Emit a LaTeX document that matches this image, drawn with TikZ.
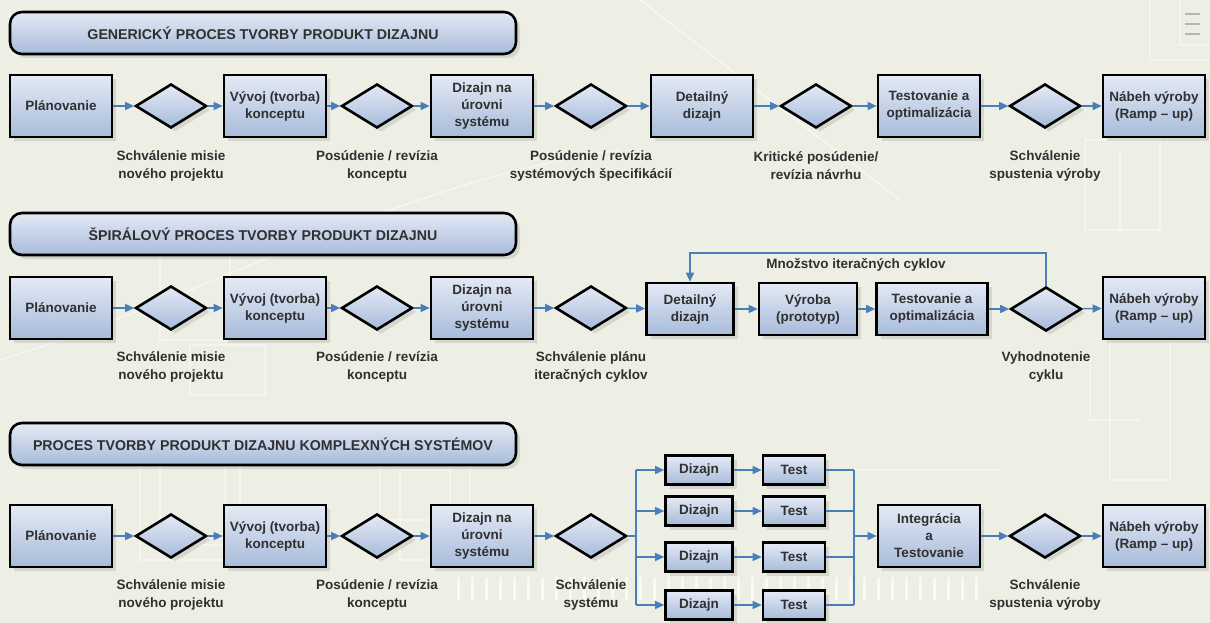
\documentclass[tikz,border=0pt]{standalone}
\usepackage{fontspec}
\setmainfont{Liberation Sans}
\usetikzlibrary{shapes.geometric,arrows.meta,shadows,calc}
\definecolor{bg}{HTML}{EDEFE4}
\definecolor{flow}{HTML}{4A7EBB}
\definecolor{ink}{HTML}{303030}
\definecolor{fillhi}{HTML}{E4EAF5}
\definecolor{filllo}{HTML}{A7BBDA}
\tikzset{
  base/.style={draw=black, line width=2.6pt, top color=fillhi, bottom color=filllo,
    drop shadow={opacity=0.22, shadow xshift=4pt, shadow yshift=-4pt},
    font=\bfseries\fontsize{13.5}{17}\selectfont, text=ink, align=center, inner sep=0pt},
  stage/.style={base, rectangle, minimum width=102pt, minimum height=62pt},
  small/.style={base, rectangle, minimum width=67pt, minimum height=29pt},
  gate/.style={base, diamond, minimum width=71pt, minimum height=44pt, aspect=1.6},
  banner/.style={base, rectangle, rounded corners=12pt, minimum width=506pt, minimum height=42pt,
    font=\bfseries\fontsize{14.2}{17}\selectfont},
  note/.style={font=\bfseries\fontsize{13.5}{18}\selectfont, text=ink, align=center},
  flowarrow/.style={draw=flow, line width=1.5pt, -{Triangle[length=9pt,width=8pt]}},
  flowline/.style={draw=flow, line width=1.5pt},
  deco/.style={draw=white, line width=1.5pt, opacity=0.4},
}
\begin{document}
\begin{tikzpicture}[x=1pt,y=-1pt]
% canvas
\fill[bg] (0,0) rectangle (1210,623);
\useasboundingbox (0,0) rectangle (1210,623);

% faint circuit-board backdrop
\begin{scope}[deco]
  \foreach \x in {458,472,...,980} \draw[line width=3pt,opacity=0.7] (\x,577) -- (\x,600);
  \draw (1150,0) -- (1150,60) -- (1210,60);
  \draw (1180,0) -- (1180,45) -- (1210,45);
  \foreach \y in {14,24,34} \draw[draw=gray,opacity=0.5] (1185,\y) -- (1200,\y);
  \draw (1085,140) rectangle (1160,230);
  \draw (1120,150) -- (1120,230);
  \draw (1110,300) rectangle (1170,480);
  \draw (1090,360) -- (1090,420) -- (1140,420);
  \draw (140,440) rectangle (240,560);
  \draw (160,455) rectangle (225,545);
  \draw (380,430) rectangle (470,520);
  \draw (400,470) rectangle (450,560);
  \draw (160,220) rectangle (230,340);
  \draw (190,345) rectangle (265,395);
  \draw (850,470) -- (1000,470);
  \draw (930,535) -- (980,535);
  \draw[opacity=0.5] (0,360) .. controls (200,300) and (400,180) .. (620,150);
  \draw[opacity=0.5] (640,0) -- (900,200);
\end{scope}

% ---------- row 1: generic process ----------
\node[banner] (t1) at (263,33) {GENERICKÝ PROCES TVORBY PRODUKT DIZAJNU};
\node[stage] (a1) at (61,106) {Plánovanie};
\node[gate]  (a2) at (171,106) {};
\node[stage] (a3) at (275,106) {Vývoj (tvorba)\\konceptu};
\node[gate]  (a4) at (377,106) {};
\node[stage] (a5) at (482,106) {Dizajn na\\úrovni\\systému};
\node[gate]  (a6) at (591,106) {};
\node[stage] (a7) at (702,106) {Detailný\\dizajn};
\node[gate]  (a8) at (816,106) {};
\node[stage] (a9) at (929,106) {Testovanie a\\optimalizácia};
\node[gate]  (a10) at (1045,106) {};
\node[stage] (a11) at (1154,106) {Nábeh výroby\\(Ramp – up)};
\foreach \p/\q in {a1/a2,a2/a3,a3/a4,a4/a5,a5/a6,a6/a7,a7/a8,a8/a9,a9/a10,a10/a11}
  \draw[flowarrow] (\p) -- (\q);
\node[note] (la1) at (171,166) {Schválenie misie\\nového projektu};
\node[note] (la2) at (377,166) {Posúdenie / revízia\\konceptu};
\node[note] (la3) at (591,166) {Posúdenie / revízia\\systémových špecifikácií};
\node[note] (la4) at (816,166) {Kritické posúdenie/\\revízia návrhu};
\node[note] (la5) at (1045,166) {Schválenie\\spustenia výroby};

% ---------- row 2: spiral process ----------
\node[banner] (t2) at (263,234) {ŠPIRÁLOVÝ PROCES TVORBY PRODUKT DIZAJNU};
\node[stage] (b1) at (61,308) {Plánovanie};
\node[gate]  (b2) at (171,308) {};
\node[stage] (b3) at (275,308) {Vývoj (tvorba)\\konceptu};
\node[gate]  (b4) at (377,308) {};
\node[stage] (b5) at (482,308) {Dizajn na\\úrovni\\systému};
\node[gate]  (b6) at (591,308) {};
\node[stage, minimum width=87pt, minimum height=52pt] (b7) at (690,309) {Detailný\\dizajn};
\node[stage, minimum width=98pt, minimum height=52pt] (b8) at (808,309) {Výroba\\(prototyp)};
\node[stage, minimum width=111pt, minimum height=52pt] (b9) at (932,309) {Testovanie a\\optimalizácia};
\node[gate]  (b10) at (1046,309) {};
\node[stage] (b11) at (1154,308) {Nábeh výroby\\(Ramp – up)};
\foreach \p/\q in {b1/b2,b2/b3,b3/b4,b4/b5,b5/b6,b6/b7,b7/b8,b8/b9,b9/b10,b10/b11}
  \draw[flowarrow] (\p) -- (\q);
\coordinate (loop) at (856,253);
\draw[flowarrow] (b10.north) -- (b10.north |- loop) -| (b7.north);
\node[note] (lloop) at (856,265) {Množstvo iteračných cyklov};
\node[note] (lb1) at (171,367) {Schválenie misie\\nového projektu};
\node[note] (lb2) at (377,367) {Posúdenie / revízia\\konceptu};
\node[note] (lb3) at (591,367) {Schválenie plánu\\iteračných cyklov};
\node[note] (lb4) at (1046,367) {Vyhodnotenie\\cyklu};

% ---------- row 3: complex systems ----------
\node[banner] (t3) at (263,444) {PROCES TVORBY PRODUKT DIZAJNU KOMPLEXNÝCH SYSTÉMOV};
\node[stage] (c1) at (61,536) {Plánovanie};
\node[gate]  (c2) at (171,536) {};
\node[stage] (c3) at (275,536) {Vývoj (tvorba)\\konceptu};
\node[gate]  (c4) at (377,536) {};
\node[stage] (c5) at (482,536) {Dizajn na\\úrovni\\systému};
\node[gate]  (c6) at (591,536) {};
\foreach \p/\q in {c1/c2,c2/c3,c3/c4,c4/c5,c5/c6}
  \draw[flowarrow] (\p) -- (\q);
\coordinate (split) at (636,536);
\coordinate (join) at (854,536);
\draw[flowline] (c6.east) -- (split);
\draw[flowline] (636,470) -- (636,605);
\draw[flowline] (854,470) -- (854,605);
\foreach \i/\y in {1/470,2/511,3/557,4/605} {
  \node[small] (dz\i) at (699,\y) {Dizajn};
  \node[small, minimum width=62pt] (ts\i) at (794,\y) {Test};
  \coordinate (s\i) at (636,\y);
  \coordinate (j\i) at (854,\y);
  \draw[flowarrow] (s\i) -- (dz\i);
  \draw[flowarrow] (dz\i) -- (ts\i);
  \draw[flowline] (ts\i) -- (j\i);
}
\node[stage] (c7) at (929,536) {Integrácia\\a\\Testovanie};
\node[gate]  (c8) at (1045,536) {};
\node[stage] (c9) at (1154,536) {Nábeh výroby\\(Ramp – up)};
\draw[flowarrow] (join) -- (c7);
\draw[flowarrow] (c7) -- (c8);
\draw[flowarrow] (c8) -- (c9);
\node[note] (lc1) at (171,595) {Schválenie misie\\nového projektu};
\node[note] (lc2) at (377,595) {Posúdenie / revízia\\konceptu};
\node[note] (lc3) at (591,595) {Schválenie\\systému};
\node[note] (lc4) at (1045,595) {Schválenie\\spustenia výroby};
\end{tikzpicture}
\end{document}
